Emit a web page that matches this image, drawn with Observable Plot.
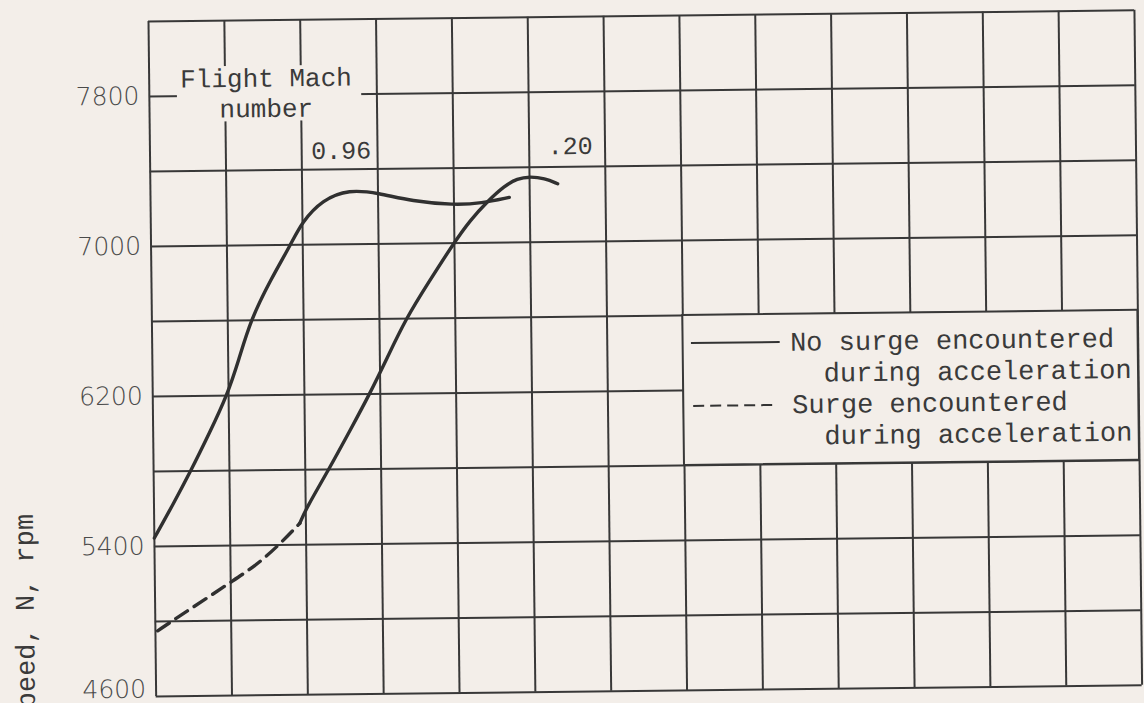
<!DOCTYPE html>
<html>
<head>
<meta charset="utf-8">
<script src="https://cdn.jsdelivr.net/npm/d3@7"></script>
<script src="https://cdn.jsdelivr.net/npm/@observablehq/plot@0.6"></script>
<style>
  html, body { margin: 0; padding: 0; background: #f3eee9; overflow: hidden; }
  #chart { width: 1144px; height: 703px; }
  #chart svg { transform: rotate(-0.65deg); transform-origin: 148px 21px; overflow: visible; }
</style>
</head>
<body>
<div id="chart"></div>
<script>
// ---- data (x in grid divisions, y = speed N, rpm) ----
const yLabelTicks = [5400, 6200, 7000, 7800];
const yLabelBottom = [4600];
const yGridTicks = [4600, 5000, 5400, 5800, 6200, 6600, 7000, 7400, 7800, 8200];
const xGridTicks = [0, 1, 2, 3, 4, 5, 6, 7, 8, 9, 10, 11, 12, 13];

// Flight Mach number 0.96, no surge
const mach096X = [0, 0.24, 0.49, 0.74, 0.98, 1.14, 1.30, 1.57, 1.84, 1.99, 2.27, 2.62, 3.00, 3.45, 4.00, 4.36, 4.73];
const mach096Y = [5445, 5615, 5800, 6000, 6200, 6390, 6600, 6815, 7000, 7120, 7240, 7292, 7272, 7225, 7203, 7210, 7240];

// Flight Mach number 0.20, surge encountered (dashed part)
const mach020SurgeX = [0.03, 0.33, 0.66, 1.00, 1.32, 1.63, 1.92];
const mach020SurgeY = [4950, 5030, 5115, 5205, 5288, 5395, 5515];

// Flight Mach number 0.20, no surge (solid part)
const mach020X = [1.92, 2.00, 2.31, 2.60, 2.86, 3.10, 3.35, 3.65, 4.00, 4.21, 4.44, 4.67, 4.84, 5.00, 5.20, 5.37];
const mach020Y = [5515, 5590, 5800, 6010, 6200, 6395, 6600, 6790, 7005, 7120, 7220, 7303, 7340, 7350, 7340, 7310];

const curveLabels = ["0.96", ".20"];
const legendLabels = ["No surge encountered", "during acceleration", "Surge encountered", "during acceleration"];
const yTitle = "Speed, N, rpm";
const machTitle = ["Flight Mach", "number"];

// ---- build tables ----
const zipXY = (xs, ys) => xs.map((x, i) => ({x, y: ys[i]}));
const m096 = zipXY(mach096X, mach096Y);
const m020s = zipXY(mach020SurgeX, mach020SurgeY);
const m020 = zipXY(mach020X, mach020Y);

const paper = "#f3eee9";
const ink = "#363636";
const mono = "Liberation Mono, DejaVu Sans Mono, monospace";
const tickStyle = {tickSize: 0, tickPadding: 10, tickFormat: d => String(d), fontSize: 25, fontFamily: "DejaVu Sans", fontWeight: 200, color: "#4a4a4a", label: null};

const chart = Plot.plot({
  width: 1144,
  height: 703,
  marginLeft: 148,
  marginRight: 10,
  marginTop: 21,
  marginBottom: 7,
  style: {background: paper, color: ink, fontFamily: mono},
  x: {domain: [0, 13], axis: null},
  y: {domain: [4600, 8200]},
  marks: [
    Plot.gridY(yGridTicks, {stroke: "#383838", strokeOpacity: 1, strokeWidth: 2}),
    Plot.gridX(xGridTicks, {stroke: "#383838", strokeOpacity: 1, strokeWidth: 2}),
    // blank area behind "Flight Mach number"
    Plot.rect([0], {x1: 0.37, x2: 2.8, y1: 7660, y2: 7955, fill: paper}),
    // legend box
    Plot.rect([0], {x1: 7, x2: 13, y1: 5800, y2: 6600, fill: paper, stroke: "#383838", strokeWidth: 2}),
    // curves
    Plot.line(m096, {x: "x", y: "y", curve: "basis", stroke: "#303030", strokeWidth: 3.4}),
    Plot.line(m020, {x: "x", y: "y", curve: "basis", stroke: "#303030", strokeWidth: 3.4}),
    Plot.line(m020s, {x: "x", y: "y", curve: "basis", stroke: "#303030", strokeWidth: 3.4, strokeDasharray: "14,8"}),
    // y axis
    Plot.axisY(yLabelTicks, {...tickStyle, dy: 0}),
    Plot.axisY(yLabelBottom, {...tickStyle, dy: -7}),
    Plot.text([yTitle], {frameAnchor: "bottom-left", dx: -130, dy: -184, rotate: -90, textAnchor: "end", lineAnchor: "middle", fontSize: 27, fill: "#3a3a3a"}),
    // annotations
    Plot.text([machTitle[0]], {x: 1.54, y: 7890, text: d => d, fontSize: 26, fill: "#3a3a3a", lineAnchor: "middle"}),
    Plot.text([machTitle[1]], {x: 1.54, y: 7728, text: d => d, fontSize: 26, fill: "#3a3a3a", lineAnchor: "middle"}),
    Plot.text([curveLabels[0]], {x: 2.52, y: 7499, text: d => d, fontSize: 25, fill: "#3a3a3a", lineAnchor: "middle"}),
    Plot.text([curveLabels[1]], {x: 5.54, y: 7510, text: d => d, fontSize: 25, fill: "#3a3a3a", lineAnchor: "middle"}),
    // legend
    Plot.ruleY([6452], {x1: 7.11, x2: 8.28, stroke: "#333", strokeWidth: 2}),
    Plot.ruleY([6117], {x1: 7.13, x2: 8.25, stroke: "#333", strokeWidth: 2, strokeDasharray: "11,6"}),
    Plot.text([legendLabels[0]], {x: 8.41, y: 6452, text: d => d, textAnchor: "start", lineAnchor: "middle", fontSize: 27, fill: "#3a3a3a"}),
    Plot.text([legendLabels[1]], {x: 8.85, y: 6285, text: d => d, textAnchor: "start", lineAnchor: "middle", fontSize: 27, fill: "#3a3a3a"}),
    Plot.text([legendLabels[2]], {x: 8.43, y: 6118, text: d => d, textAnchor: "start", lineAnchor: "middle", fontSize: 27, fill: "#3a3a3a"}),
    Plot.text([legendLabels[3]], {x: 8.85, y: 5951, text: d => d, textAnchor: "start", lineAnchor: "middle", fontSize: 27, fill: "#3a3a3a"})
  ]
});
document.getElementById("chart").appendChild(chart);
</script>
</body>
</html>
